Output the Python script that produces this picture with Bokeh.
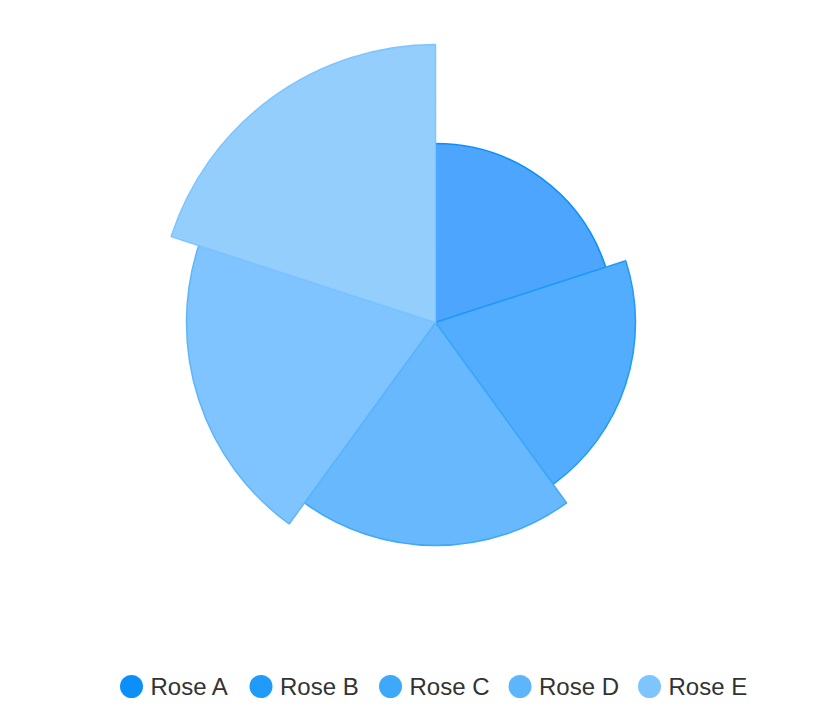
import math
from bokeh.plotting import figure
from bokeh.models import Range1d, ColumnDataSource
from bokeh.core.properties import value
from bokeh.embed import file_html
from bokeh.resources import INLINE

# ---- data ----
names = ["Rose A", "Rose B", "Rose C", "Rose D", "Rose E"]
values = [179, 200, 223, 249, 278]
line_colors = ["#0b8ff8", "#209bf9", "#3ea8fa", "#5db6fb", "#7ec4fd"]
fill_colors = ["#4da5fd", "#53adfe", "#67b8fc", "#7fc4fe", "#93cefd"]

W, H = 824, 704
cx, cy = 435, H - 322

p = figure(width=W, height=H, output_backend="svg", toolbar_location=None,
           x_range=Range1d(0, W), y_range=Range1d(0, H), min_border=0)
p.axis.visible = False
p.grid.visible = False
p.outline_line_color = None
p.background_fill_color = "white"

n = len(values)
step = 2 * math.pi / n
starts = [math.pi / 2 - (i + 1) * step for i in range(n)]
ends = [math.pi / 2 - i * step for i in range(n)]

src = ColumnDataSource(dict(x=[cx] * n, y=[cy] * n, r=values, s=starts, e=ends,
                            fc=fill_colors, lc=line_colors))
p.wedge(x="x", y="y", radius="r", start_angle="s", end_angle="e",
        fill_color="fc", line_color="lc", line_width=1.5, source=src)

# legend
lx0, spacing, ly = 131, 129.5, H - 686
lx = [lx0 + i * spacing for i in range(n)]
leg = ColumnDataSource(dict(x=lx, tx=[v + 19 for v in lx], y=[ly] * n,
                            c=line_colors, t=names))
p.scatter(x="x", y="y", size=23, marker="circle", fill_color="c", line_color=None, source=leg)
p.text(x="tx", y="y", text="t", text_font=value("Liberation Sans"), text_font_size="24px",
       text_color="#333333", text_baseline="middle", text_align="left", source=leg)

open("out.html", "w").write(file_html(p, INLINE))
